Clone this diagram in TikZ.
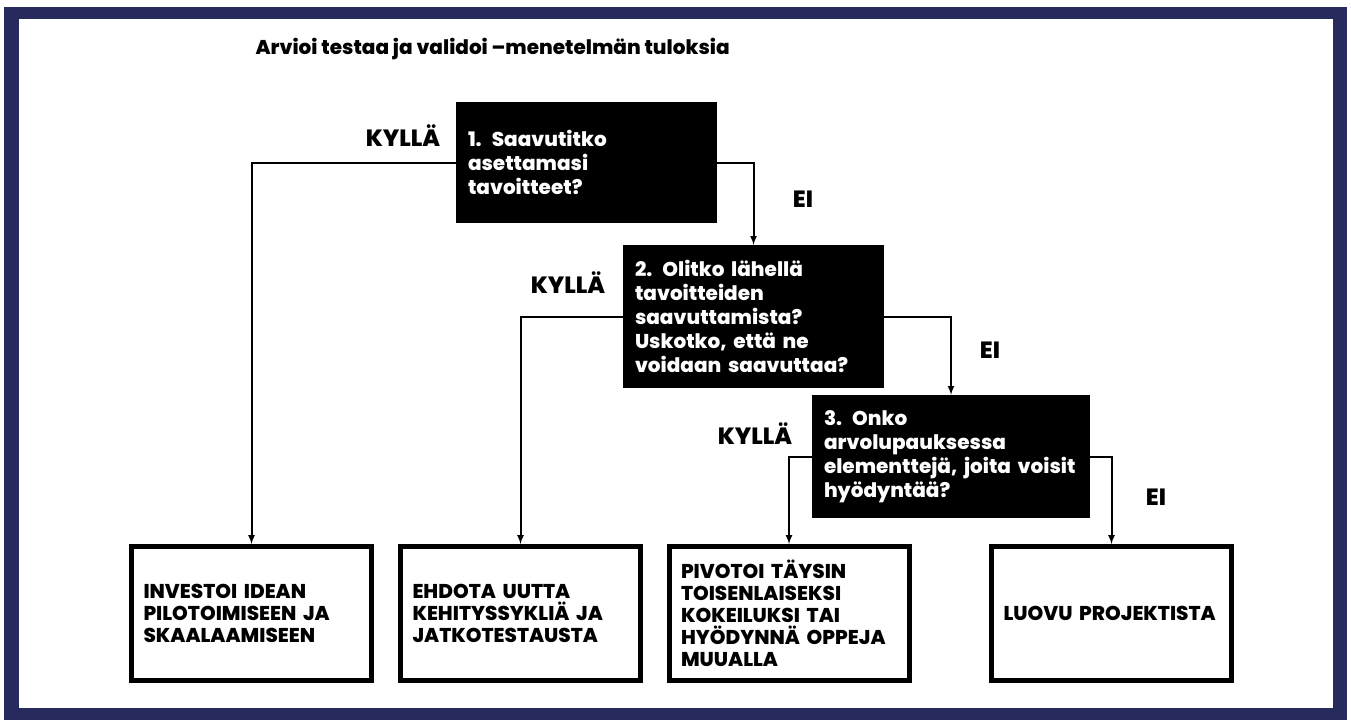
\documentclass[tikz,border=0pt]{standalone}
\usepackage{fontspec}
\setmainfont{Poppins}[BoldFont={Poppins ExtraBold}]
\usetikzlibrary{arrows}
\definecolor{navy}{RGB}{39,42,92}

\begin{document}
\begin{tikzpicture}[x=1pt,y=-1pt,
	question/.style={fill=black,text=white,inner xsep=12pt,align=left,font=\bfseries\fontsize{20}{24}\selectfont},
	outcome/.style={draw,line width=5pt,inner xsep=12pt,text width=216pt,minimum width=240pt,minimum height=134pt,align=left,font=\bfseries\fontsize{20}{22}\selectfont},
	answer/.style={anchor=base,font=\bfseries\fontsize{23.5}{24}\selectfont},
	link/.style={-latex,line width=2pt}]
	\useasboundingbox (0,0) rectangle (1351,720);
	\fill[navy] (4,7) rectangle (1347,720);
	\fill[white] (19,19) rectangle (1333,708);

	\node[anchor=base west,font=\bfseries\fontsize{20}{22}\selectfont] (title) at (252,54) {Arvioi testaa ja validoi –menetelmän tuloksia};

	\node[question,text width=237pt,minimum height=121pt] (q1) at (586.5,162.5) {1. Saavutitko\\asettamasi\\tavoitteet?};
	\node[question,text width=237pt,minimum height=143pt] (q2) at (753.5,316.5) {2. Olitko lähellä\\tavoitteiden\\saavuttamista?\\Uskotko, että ne\\voidaan saavuttaa?};
	\node[question,text width=254pt,minimum height=123pt] (q3) at (951,456.5) {3. Onko\\arvolupauksessa\\elementtejä, joita voisit\\hyödyntää?};

	\node[outcome] (a) at (251.5,613.5) {INVESTOI IDEAN\\PILOTOIMISEEN JA\\SKAALAAMISEEN};
	\node[outcome] (b) at (520.5,613.5) {EHDOTA UUTTA\\KEHITYSSYKLIÄ JA\\JATKOTESTAUSTA};
	\node[outcome] (c) at (789,613.5) {PIVOTOI TÄYSIN\\TOISENLAISEKSI\\KOKEILUKSI TAI\\HYÖDYNNÄ OPPEJA\\MUUALLA};
	\node[outcome] (d) at (1111.5,613.5) {LUOVU PROJEKTISTA};

	\draw[link] (q1.west) -| (a.north);
	\draw[link] (q1.east) -| (q2.north);
	\draw[link] (q2.west) -| (b.north);
	\draw[link] (q2.east) -| (q3.north);
	\draw[link] (q3.west) -| (c.north);
	\draw[link] (q3.east) -| (d.north);

	\node[answer] (yes1) at (403,146) {KYLLÄ};
	\node[answer] (no1) at (803,207) {EI};
	\node[answer] (yes2) at (568,293) {KYLLÄ};
	\node[answer] (no2) at (990,358) {EI};
	\node[answer] (yes3) at (755,444) {KYLLÄ};
	\node[answer] (no3) at (1156,505) {EI};
\end{tikzpicture}
\end{document}
